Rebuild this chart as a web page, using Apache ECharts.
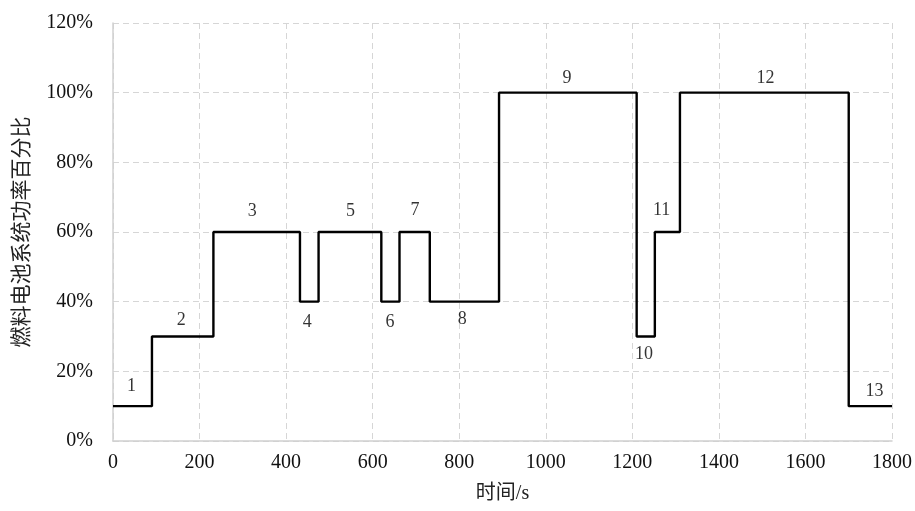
<!DOCTYPE html>
<html lang="zh">
<head>
<meta charset="UTF-8">
<title>燃料电池系统功率</title>
<script src="https://cdn.jsdelivr.net/npm/echarts@6/dist/echarts.min.js"></script>
<style>
body{margin:0;padding:0;background:#fff;}
#main{width:915px;height:511px;}
</style>
</head>
<body>
<div id="main"></div>
<script type="text/javascript">
// step points: time (s) and power share (%)
var stepTime  = [0, 90, 232, 432, 475, 620, 662, 732, 892, 1210, 1252, 1310, 1700, 1800];
var stepPower = [10, 30, 60, 40, 60, 40, 60, 40, 100, 30, 60, 100, 10, 10];

// segment numbers and where they sit
var segNames = ['1','2','3','4','5','6','7','8','9','10','11','12','13'];
var segX = [44, 159, 323, 450, 550, 641, 699, 808, 1050, 1228, 1269, 1509, 1761];
var segY = [15.5, 34.5, 65.7, 33.9, 65.7, 34, 66, 34.7, 104, 24.7, 66, 104, 14];

var xTicks = [0, 1800, 200];
var yTicks = [0, 120, 20];

var lineData = [];
for (var i = 0; i < stepTime.length; i++) lineData.push([stepTime[i], stepPower[i]]);
var labelData = [];
for (var j = 0; j < segNames.length; j++) labelData.push({value: [segX[j], segY[j]], name: segNames[j]});

var serif = '"Times New Roman", "Liberation Serif", serif';
var cjk = '"Liberation Serif", "Noto Sans CJK SC", serif';

var myChart = echarts.init(document.getElementById('main'));
var option = {
    animation: false,
    backgroundColor: '#fff',
    grid: {left: 113, right: 22, top: 23, bottom: 70},
    xAxis: {
        type: 'value',
        min: xTicks[0], max: xTicks[1], interval: xTicks[2],
        name: '时间/s',
        nameLocation: 'middle',
        nameGap: 43,
        nameTextStyle: {color: '#222', fontSize: 20, fontFamily: cjk},
        axisLine: {lineStyle: {color: '#d0d0d0', width: 1.5}},
        axisTick: {show: false},
        axisLabel: {color: '#111', fontSize: 20, fontFamily: serif, margin: 12,
            formatter: function (v) { return String(v); }},
        splitLine: {show: true, lineStyle: {color: '#d6d6d6', type: [6, 4]}}
    },
    yAxis: {
        type: 'value',
        min: yTicks[0], max: yTicks[1], interval: yTicks[2],
        name: '燃料电池系统功率百分比',
        nameLocation: 'middle',
        nameGap: 80,
        nameTextStyle: {color: '#222', fontSize: 21, fontFamily: cjk},
        axisLine: {show: true, lineStyle: {color: '#d0d0d0', width: 1.5}},
        axisTick: {show: false},
        axisLabel: {color: '#111', fontSize: 20, fontFamily: serif, margin: 20,
            formatter: function (v) { return v + '%'; }},
        splitLine: {show: true, lineStyle: {color: '#d6d6d6', type: [6, 4]}}
    },
    series: [
        {
            type: 'line',
            step: 'end',
            data: lineData,
            symbol: 'none',
            lineStyle: {color: '#000', width: 2.4}
        },
        {
            type: 'scatter',
            data: labelData,
            symbolSize: 1,
            itemStyle: {color: 'rgba(0,0,0,0)'},
            label: {
                show: true,
                position: [0, 0],
                align: 'center',
                verticalAlign: 'middle',
                formatter: '{b}',
                color: '#000',
                fontSize: 18,
                fontFamily: serif
            }
        }
    ]
};
myChart.setOption(option);
</script>
</body>
</html>
